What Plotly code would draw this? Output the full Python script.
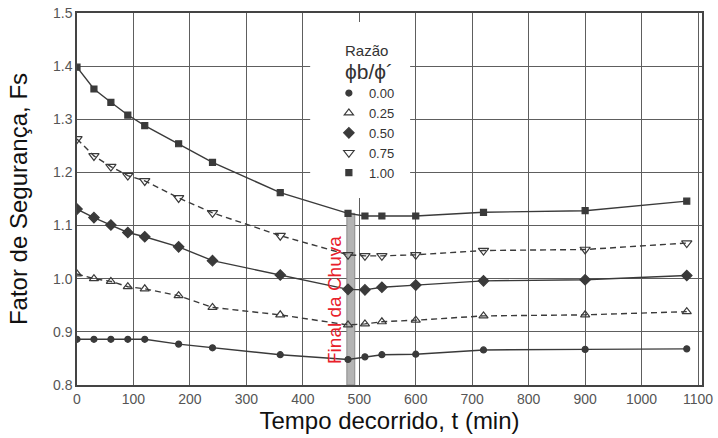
import plotly.graph_objects as go

tempo = [0, 30, 60, 90, 120, 180, 240, 360, 480, 510, 540, 600, 720, 900, 1080]
razoes = ["0.00", "0.25", "0.50", "0.75", "1.00"]
fs_000 = [0.886, 0.886, 0.886, 0.886, 0.886, 0.877, 0.870, 0.857, 0.848, 0.853, 0.857, 0.858, 0.866, 0.867, 0.868]
fs_025 = [1.009, 1.000, 0.995, 0.985, 0.981, 0.968, 0.946, 0.932, 0.913, 0.915, 0.919, 0.922, 0.930, 0.932, 0.938]
fs_050 = [1.131, 1.115, 1.101, 1.087, 1.079, 1.060, 1.034, 1.007, 0.980, 0.979, 0.984, 0.988, 0.996, 0.998, 1.006]
fs_075 = [1.263, 1.231, 1.211, 1.194, 1.184, 1.152, 1.124, 1.081, 1.045, 1.043, 1.043, 1.045, 1.053, 1.055, 1.067]
fs_100 = [1.398, 1.357, 1.332, 1.308, 1.288, 1.254, 1.219, 1.162, 1.123, 1.118, 1.118, 1.118, 1.125, 1.128, 1.146]
x_ticks = [0, 100, 200, 300, 400, 500, 600, 700, 800, 900, 1000, 1100]
y_ticks = [0.8, 0.9, 1.0, 1.1, 1.2, 1.3, 1.4, 1.5]
fim_chuva = [478, 492]

series = [fs_000, fs_025, fs_050, fs_075, fs_100]
symbols = ["circle", "triangle-up-open", "diamond", "triangle-down-open", "square"]
sizes = [6, 8, 8, 9, 6]
dashes = ["solid", "6px,4px", "solid", "6px,4px", "solid"]
ink = "#3a3a3a"
FONT = "Liberation Sans, Arial, sans-serif"

fig = go.Figure()
for name, ys, sym, sz, dash in zip(razoes, series, symbols, sizes, dashes):
    fig.add_trace(go.Scatter(
        x=tempo, y=ys, mode="lines+markers", showlegend=False,
        line=dict(color=ink, width=1.4, dash=dash),
        marker=dict(symbol=sym, size=sz, color=ink, line=dict(color=ink, width=1.2)),
    ))
for name, sym, sz in zip(razoes, symbols, sizes):
    fig.add_trace(go.Scatter(
        x=[None], y=[None], mode="markers", name=name,
        marker=dict(symbol=sym, size=sz, color=ink, line=dict(color=ink, width=1.2)),
    ))

# white backdrop behind legend (covers gridlines)
fig.add_shape(type="rect", xref="x", yref="y", x0=413, x1=590, y0=1.152, y1=1.483,
              fillcolor="white", line=dict(width=0), layer="between")
# end-of-rain band
fig.add_shape(type="rect", xref="x", yref="y", x0=fim_chuva[0], x1=fim_chuva[1],
              y0=0.8, y1=fs_100[8], fillcolor="#b4b4b4", line=dict(color="#8a8a8a", width=1),
              layer="between")
fig.add_annotation(x=457, y=0.960, xref="x", yref="y", text="Final da Chuva", textangle=-90,
                   showarrow=False, font=dict(color="#e8202a", size=19, family=FONT))
# legend heading
fig.add_annotation(x=(366 - 77) / 625, y=(385 - 50) / 372, xref="paper", yref="paper",
                   xanchor="center", yanchor="middle",
                   text="Razão", showarrow=False, font=dict(size=15, color="#333", family=FONT))
fig.add_annotation(x=(369 - 77) / 625, y=(385 - 71) / 372, xref="paper", yref="paper",
                   xanchor="center", yanchor="middle",
                   text="ϕb/ϕ´", showarrow=False, font=dict(size=21, color="#333", family=FONT))

fig.update_layout(
    width=718, height=438,
    margin=dict(l=77, r=16, t=13, b=53),
    paper_bgcolor="white", plot_bgcolor="white",
    font=dict(family=FONT, color="#222"),
    legend=dict(
        x=0.403, y=0.825, xanchor="left", yanchor="top",
        bgcolor="rgba(0,0,0,0)", borderwidth=0,
        font=dict(size=13, color="#333"),
        itemwidth=30,
    ),
)
fig.update_xaxes(
    range=[0, 1107], tickvals=x_ticks, ticks="", showline=True, linecolor="#444", linewidth=1.5,
    mirror=True, showgrid=True, gridcolor="#5e5e5e", gridwidth=1.2, zeroline=False,
    automargin=False, tickfont=dict(size=14, color="#555"),
    title=dict(text="Tempo decorrido, t (min)", font=dict(size=24, color="#111"), standoff=4),
)
fig.update_yaxes(
    range=[0.8, 1.5], tickvals=y_ticks, tickformat=".1f", ticks="", showline=True, linecolor="#444",
    linewidth=1.5, mirror=True, showgrid=True, gridcolor="#5e5e5e", gridwidth=1.2, zeroline=False,
    automargin=False, tickfont=dict(size=14, color="#555"),
    title=dict(text="Fator de Segurança, Fs", font=dict(size=24, color="#111"), standoff=19),
)

fig.write_html("out.html")
